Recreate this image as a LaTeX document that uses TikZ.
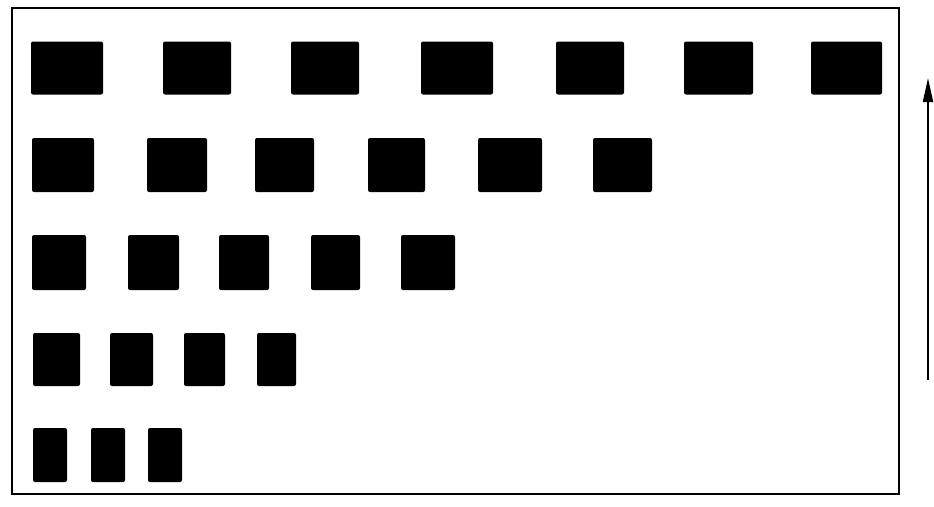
\documentclass[tikz,border=0pt]{standalone}
\usetikzlibrary{arrows.meta}
\tikzset{
  blk/.style={fill=black, draw=none, rounded corners=2pt, inner sep=0pt, outer sep=0pt},
  frame/.style={draw=black, line width=2.2pt},
  upline/.style={draw=black, line width=2pt, -{Triangle[length=24pt,width=10pt]}}
}
\newcommand{\blkbox}[5]{\node[blk, minimum width=#4pt, minimum height=#5pt] (#1) at (#2,#3) {};}
\begin{document}
\begin{tikzpicture}[x=1pt,y=-1pt]
\useasboundingbox (0,0) rectangle (934,506);
\draw[frame] (12,8) rectangle (899,494);
% row 1
\blkbox{a1}{67}{68}{72}{53}
\blkbox{a2}{197}{68}{68}{53}
\blkbox{a3}{325}{68}{68}{53}
\blkbox{a4}{457}{68}{72}{53}
\blkbox{a5}{590}{68}{68}{53}
\blkbox{a6}{718.5}{68}{69}{53}
\blkbox{a7}{846.5}{68}{71}{53}
% row 2
\blkbox{b1}{63}{165}{62}{54}
\blkbox{b2}{177}{165}{60}{54}
\blkbox{b3}{284.5}{165}{59}{54}
\blkbox{b4}{396.5}{165}{57}{54}
\blkbox{b5}{510}{165}{64}{54}
\blkbox{b6}{622.5}{165}{59}{54}
% row 3
\blkbox{c1}{59}{262.5}{54}{55}
\blkbox{c2}{153.5}{262.5}{51}{55}
\blkbox{c3}{244}{262.5}{50}{55}
\blkbox{c4}{335.5}{262.5}{49}{55}
\blkbox{c5}{428}{262.5}{54}{55}
% row 4
\blkbox{d1}{56.5}{359.5}{47}{53}
\blkbox{d2}{131.5}{359.5}{43}{53}
\blkbox{d3}{204.5}{359.5}{41}{53}
\blkbox{d4}{276.5}{359.5}{39}{53}
% row 5
\blkbox{e1}{50}{455}{34}{54}
\blkbox{e2}{108}{455}{34}{54}
\blkbox{e3}{165}{455}{34}{54}
% arrow
\coordinate (arrlow) at (928,380);
\coordinate (arrhigh) at (928,78);
\draw[upline] (arrlow) -- (arrhigh);
\end{tikzpicture}
\end{document}
